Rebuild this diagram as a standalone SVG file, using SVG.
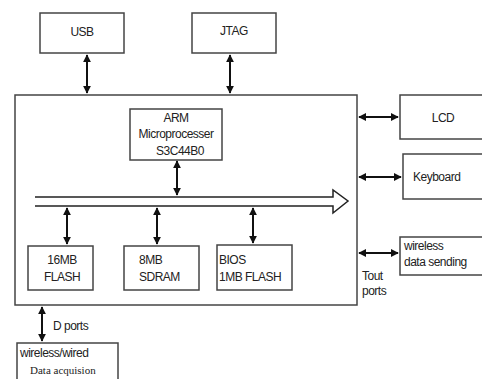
<svg xmlns="http://www.w3.org/2000/svg" width="482" height="379" viewBox="0 0 482 379">
<defs>
<style>
.box{fill:#fff;stroke:#444;stroke-width:1.5}
.t{font-family:"Liberation Sans",Arial,sans-serif;font-size:12px;fill:#222;letter-spacing:-0.5px}
.s{font-family:"Liberation Serif","Times New Roman",serif;font-size:11px;fill:#222}
.c{stroke:#111;stroke-width:2;fill:none}
</style>
<marker id="a" viewBox="0 0 10 10" refX="9" refY="5" markerWidth="4" markerHeight="4" orient="auto-start-reverse">
<path d="M0,0L10,5L0,10z" fill="#111"/>
</marker>
</defs>
<rect width="482" height="379" fill="#fff"/>
<g id="main"><rect class="box" x="15" y="95" width="342" height="210"/></g>
<g id="usb"><rect class="box" x="40" y="13" width="84" height="40"/><text class="t" x="82" y="36" text-anchor="middle">USB</text></g>
<g id="jtag"><rect class="box" x="192" y="13" width="84" height="40"/><text class="t" x="234" y="35" text-anchor="middle">JTAG</text></g>
<g id="arm"><rect class="box" x="130" y="109" width="92" height="51"/>
<text class="t" x="176" y="122" text-anchor="middle">ARM</text>
<text class="t" x="176" y="138" text-anchor="middle">Microprocesser</text>
<text class="t" x="180" y="155" text-anchor="middle">S3C44B0</text></g>
<g id="flash16"><rect class="box" x="28" y="246" width="65" height="44"/>
<text class="t" x="62" y="264" text-anchor="middle">16MB</text>
<text class="t" x="62" y="281" text-anchor="middle">FLASH</text></g>
<g id="sdram"><rect class="box" x="124" y="246" width="75" height="44"/>
<text class="t" x="139" y="264">8MB</text>
<text class="t" x="139" y="281">SDRAM</text></g>
<g id="bios"><rect class="box" x="217" y="245" width="75" height="45"/>
<text class="t" x="219" y="264">BIOS</text>
<text class="t" x="219" y="281">1MB FLASH</text></g>
<g id="lcd"><rect class="box" x="400" y="95" width="86" height="44"/><text class="t" x="443" y="122" text-anchor="middle">LCD</text></g>
<g id="keyboard"><rect class="box" x="403" y="154" width="86" height="45"/><text class="t" x="413" y="181">Keyboard</text></g>
<g id="wsend"><rect class="box" x="400" y="237" width="86" height="38"/>
<text class="t" x="404" y="250">wireless</text>
<text class="t" x="404" y="266">data sending</text></g>
<g id="wdata"><rect class="box" x="17" y="343" width="101" height="40"/>
<text class="t" x="20" y="357">wireless/wired</text>
<text class="s" x="30" y="374">Data  acquision</text></g>
<g id="bus"><path d="M35,197H333V190L348,201L333,213V206H35" fill="none" stroke="#222" stroke-width="1.5"/></g>
<g id="connectors">
<line class="c" x1="87" y1="55" x2="87" y2="93" marker-start="url(#a)" marker-end="url(#a)"/>
<line class="c" x1="230" y1="55" x2="230" y2="93" marker-start="url(#a)" marker-end="url(#a)"/>
<line class="c" x1="177" y1="161" x2="177" y2="195" marker-start="url(#a)" marker-end="url(#a)"/>
<line class="c" x1="67" y1="208" x2="67" y2="244" marker-start="url(#a)" marker-end="url(#a)"/>
<line class="c" x1="157" y1="208" x2="157" y2="244" marker-start="url(#a)" marker-end="url(#a)"/>
<line class="c" x1="253" y1="208" x2="253" y2="243" marker-start="url(#a)" marker-end="url(#a)"/>
<line class="c" x1="359" y1="117" x2="398" y2="117" marker-start="url(#a)" marker-end="url(#a)"/>
<line class="c" x1="359" y1="177" x2="401" y2="177" marker-start="url(#a)" marker-end="url(#a)"/>
<line class="c" x1="359" y1="253" x2="398" y2="253" marker-start="url(#a)" marker-end="url(#a)"/>
<line class="c" x1="42" y1="307" x2="42" y2="341" marker-start="url(#a)" marker-end="url(#a)"/>
<text class="t" x="362" y="280">Tout</text>
<text class="t" x="362" y="295">ports</text>
<text class="t" x="53" y="330">D ports</text>
</g>
</svg>
